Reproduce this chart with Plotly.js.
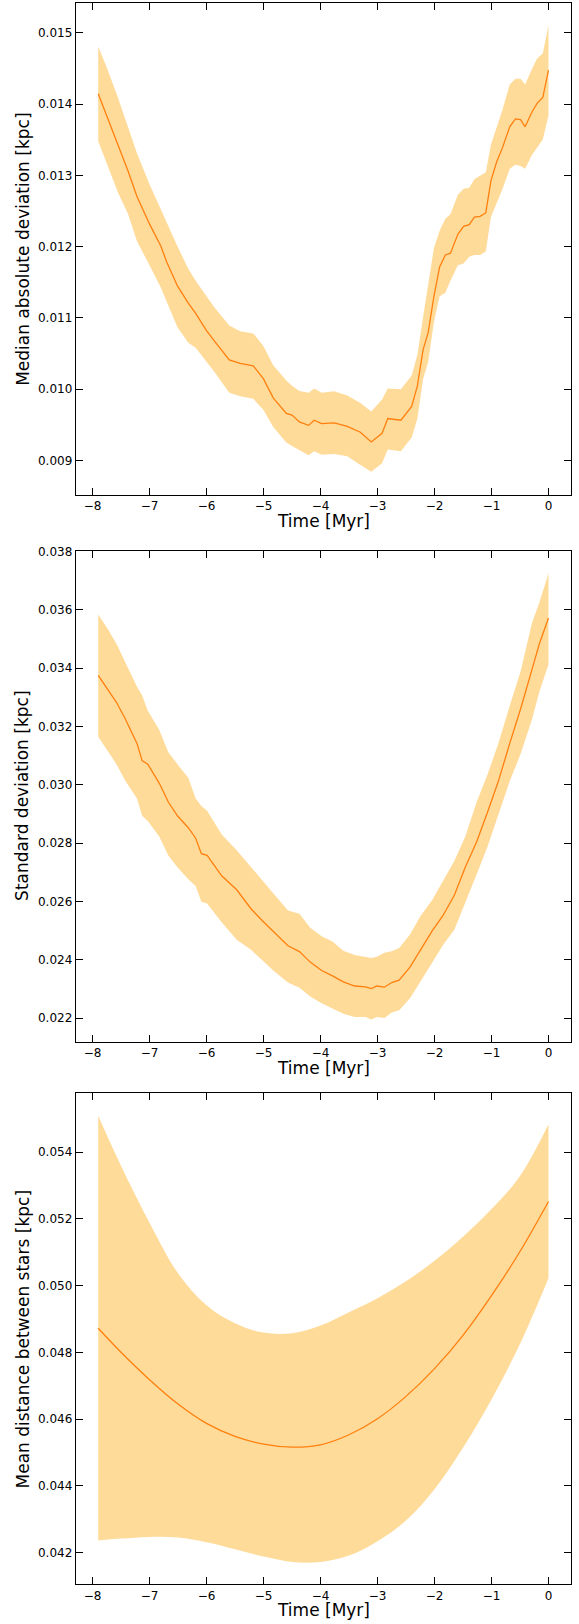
<!DOCTYPE html>
<html>
<head>
<meta charset="utf-8">
<script src="https://cdn.plot.ly/plotly-3.0.1.min.js"></script>
<style>html,body{margin:0;padding:0;background:#fff;}#chart{width:579px;height:1624px;}</style>
</head>
<body>
<div id="chart"></div>
<script>
// ---------- Data ----------
// Panel 1: Median absolute deviation [kpc]
const time1 = [-7.90,-7.74,-7.55,-7.38,-7.22,-7.00,-6.80,-6.70,-6.51,-6.32,-6.19,-6.00,-5.86,-5.60,-5.41,-5.18,-5.00,-4.83,-4.60,-4.50,-4.37,-4.21,-4.11,-3.98,-3.76,-3.53,-3.30,-3.11,-2.92,-2.82,-2.59,-2.40,-2.30,-2.20,-2.11,-2.01,-1.91,-1.81,-1.72,-1.59,-1.49,-1.39,-1.30,-1.20,-1.10,-1.01,-0.91,-0.81,-0.68,-0.58,-0.49,-0.41,-0.29,-0.20,-0.10,0.00];
const mad = [0.014145,0.013816,0.013430,0.013068,0.012705,0.012319,0.012005,0.011787,0.011449,0.011208,0.011063,0.010821,0.010676,0.010411,0.010362,0.010329,0.010145,0.009879,0.009662,0.009638,0.009541,0.009493,0.009565,0.009517,0.009527,0.009478,0.009396,0.009261,0.009382,0.009589,0.009565,0.009758,0.010048,0.010556,0.010797,0.011304,0.011715,0.011884,0.011908,0.012174,0.012285,0.012309,0.012415,0.012425,0.012473,0.012923,0.013188,0.013382,0.013681,0.013792,0.013783,0.013681,0.013889,0.014010,0.014092,0.014478];
const madUpper = [0.014807,0.014493,0.014082,0.013696,0.013309,0.012874,0.012536,0.012343,0.012005,0.011691,0.011522,0.011314,0.011145,0.010894,0.010812,0.010783,0.010604,0.010338,0.010121,0.010048,0.009976,0.009952,0.010010,0.009952,0.009971,0.009913,0.009807,0.009686,0.009855,0.010010,0.010000,0.010193,0.010483,0.011014,0.011498,0.011981,0.012222,0.012391,0.012454,0.012729,0.012812,0.012826,0.012947,0.012995,0.013043,0.013430,0.013671,0.013913,0.014275,0.014357,0.014357,0.014275,0.014493,0.014638,0.014710,0.015106];
const madLower = [0.013478,0.013140,0.012754,0.012464,0.012077,0.011739,0.011425,0.011232,0.010870,0.010652,0.010580,0.010386,0.010242,0.009952,0.009903,0.009865,0.009710,0.009469,0.009251,0.009203,0.009140,0.009072,0.009130,0.009082,0.009092,0.009058,0.008937,0.008841,0.008961,0.009155,0.009130,0.009324,0.009589,0.010145,0.010386,0.010942,0.011304,0.011353,0.011522,0.011739,0.011763,0.011860,0.011884,0.011884,0.011932,0.012415,0.012609,0.012802,0.013092,0.013150,0.013130,0.013092,0.013285,0.013382,0.013502,0.013841];

// Panel 2: Standard deviation [kpc]
const time2 = [-7.90,-7.74,-7.58,-7.42,-7.22,-7.13,-7.03,-6.83,-6.67,-6.51,-6.32,-6.19,-6.09,-5.99,-5.73,-5.47,-5.22,-5.02,-4.83,-4.57,-4.37,-4.18,-3.98,-3.79,-3.60,-3.40,-3.21,-3.11,-3.01,-2.88,-2.75,-2.62,-2.43,-2.24,-2.04,-1.85,-1.65,-1.46,-1.26,-1.07,-0.88,-0.68,-0.49,-0.29,-0.16,0.00];
const std = [0.03375,0.03330,0.03283,0.03224,0.03142,0.03083,0.03071,0.03006,0.02941,0.02894,0.02853,0.02817,0.02764,0.02758,0.02687,0.02640,0.02575,0.02534,0.02499,0.02448,0.02428,0.02392,0.02363,0.02345,0.02324,0.02310,0.02307,0.02301,0.02310,0.02306,0.02322,0.02330,0.02375,0.02434,0.02499,0.02552,0.02622,0.02717,0.02805,0.02906,0.03012,0.03142,0.03260,0.03395,0.03484,0.03572];
const stdUpper = [0.03584,0.03537,0.03484,0.03419,0.03336,0.03307,0.03254,0.03189,0.03112,0.03071,0.03024,0.02953,0.02927,0.02911,0.02829,0.02776,0.02717,0.02670,0.02628,0.02569,0.02558,0.02510,0.02481,0.02463,0.02431,0.02416,0.02410,0.02406,0.02410,0.02424,0.02429,0.02440,0.02487,0.02552,0.02605,0.02670,0.02740,0.02823,0.02941,0.03035,0.03142,0.03271,0.03389,0.03555,0.03625,0.03726];
const stdLower = [0.03165,0.03118,0.03071,0.03012,0.02953,0.02894,0.02876,0.02823,0.02758,0.02717,0.02676,0.02652,0.02599,0.02593,0.02528,0.02469,0.02434,0.02398,0.02363,0.02322,0.02304,0.02274,0.02251,0.02233,0.02215,0.02204,0.02204,0.02195,0.02204,0.02200,0.02219,0.02227,0.02268,0.02327,0.02392,0.02451,0.02504,0.02593,0.02693,0.02788,0.02894,0.03012,0.03106,0.03224,0.03319,0.03413];

// Panel 3: Mean distance between stars [kpc]
const time3 = [-7.9,-7.5,-7.0,-6.5,-6.0,-5.5,-5.0,-4.5,-4.0,-3.5,-3.0,-2.5,-2.0,-1.5,-1.0,-0.5,0.0];
const meanDist = [0.04872,0.04800,0.04718,0.04645,0.04587,0.04548,0.04525,0.04516,0.04523,0.04553,0.04601,0.04668,0.04751,0.04851,0.04970,0.05102,0.05252];
const meanUpper = [0.05509,0.05359,0.05188,0.05037,0.04941,0.04887,0.04859,0.04857,0.04880,0.04920,0.04962,0.05013,0.05074,0.05146,0.05229,0.05328,0.05483];
const meanLower = [0.04236,0.04242,0.04247,0.04245,0.04231,0.04210,0.04188,0.04172,0.04172,0.04191,0.04234,0.04296,0.04390,0.04514,0.04659,0.04825,0.05022];

const yTitles = ["Median absolute deviation [kpc]", "Standard deviation [kpc]", "Mean distance between stars [kpc]"];
const xTitle = "Time [Myr]";
const xTickVals = [-8,-7,-6,-5,-4,-3,-2,-1,0];
const yTick1 = [0.009,0.010,0.011,0.012,0.013,0.014,0.015];
const yTick2 = [0.022,0.024,0.026,0.028,0.030,0.032,0.034,0.036,0.038];
const yTick3 = [0.042,0.044,0.046,0.048,0.050,0.052,0.054];

// ---------- Styling ----------
const W = 579, H = 1624;
const FILL = 'rgba(255,165,0,0.4)';
const LINE = '#ff7f0e';
const FONT = 'DejaVu Sans, sans-serif';
const px = (a, b) => [1 - b / H, 1 - a / H];

const panels = [
  {t: time1, m: mad, u: madUpper, l: madLower, top: 3.3, bot: 495, range: [0.008516, 0.015414], ticks: yTick1, shape: 'linear'},
  {t: time2, m: std, u: stdUpper, l: stdLower, top: 550.7, bot: 1041.7, range: [0.02119, 0.03803], ticks: yTick2, shape: 'linear'},
  {t: time3, m: meanDist, u: meanUpper, l: meanLower, top: 1093.3, bot: 1584.3, range: [0.04105, 0.05576], ticks: yTick3, shape: 'spline'}
];

const data = [];
const layout = {
  width: W, height: H,
  margin: {l: 0, r: 0, t: 0, b: 0},
  paper_bgcolor: '#fff', plot_bgcolor: '#fff',
  showlegend: false,
  font: {family: FONT, color: '#000', size: 12},
  annotations: []
};
const xDom = [75.7 / W, 571 / W];

panels.forEach((p, i) => {
  const n = i + 1;
  const xa = n === 1 ? 'x' : 'x' + n;
  const ya = n === 1 ? 'y' : 'y' + n;
  data.push({x: p.t, y: p.l, xaxis: xa, yaxis: ya, type: 'scatter', mode: 'lines', line: {width: 0, shape: p.shape}, hoverinfo: 'skip'});
  data.push({x: p.t, y: p.u, xaxis: xa, yaxis: ya, type: 'scatter', mode: 'lines', line: {width: 0, shape: p.shape}, fill: 'tonexty', fillcolor: FILL, hoverinfo: 'skip'});
  data.push({x: p.t, y: p.m, xaxis: xa, yaxis: ya, type: 'scatter', mode: 'lines', line: {width: 1.3, color: LINE, shape: p.shape}});

  const axCommon = {
    showgrid: false, zeroline: false, showline: true, linecolor: '#000', linewidth: 1,
    mirror: 'allticks', ticks: 'inside', ticklen: 7, tickwidth: 1, tickcolor: '#000',
    tickfont: {family: FONT, size: 12, color: '#000'}, automargin: false
  };
  layout['xaxis' + (n === 1 ? '' : n)] = Object.assign({}, axCommon, {
    domain: xDom, anchor: ya, range: [-8.295, 0.395],
    tickmode: 'array', tickvals: xTickVals
  });
  layout['yaxis' + (n === 1 ? '' : n)] = Object.assign({}, axCommon, {
    domain: px(p.top, p.bot), anchor: xa, range: p.range,
    tickmode: 'array', tickvals: p.ticks, tickformat: '.3f'
  });
  layout.annotations.push({
    text: yTitles[i], xref: 'paper', yref: 'paper', showarrow: false,
    x: 22.7 / W, y: 1 - (p.top + p.bot) / 2 / H, textangle: -90,
    xanchor: 'center', yanchor: 'middle', font: {family: FONT, size: 17, color: '#000'}
  });
  layout.annotations.push({
    text: xTitle, xref: 'paper', yref: 'paper', showarrow: false,
    x: (75.7 + 571) / 2 / W, y: 1 - (p.bot + 26) / H,
    xanchor: 'center', yanchor: 'middle', font: {family: FONT, size: 17, color: '#000'}
  });
});

Plotly.newPlot('chart', data, layout, {staticPlot: true, displayModeBar: false});
</script>
</body>
</html>
